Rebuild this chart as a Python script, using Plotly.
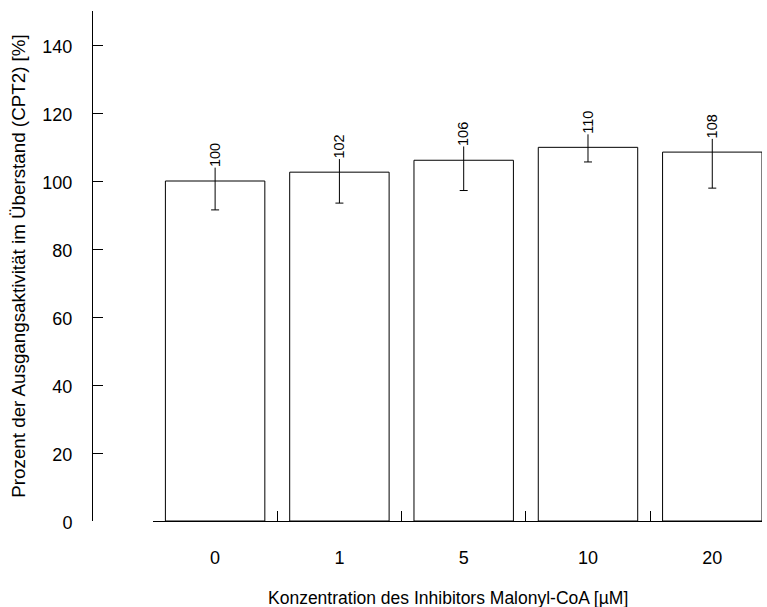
import plotly.graph_objects as go

categories = ["0", "1", "5", "10", "20"]
values = [100.0, 102.6, 106.1, 109.9, 108.5]
errors = [8.5, 9.1, 8.9, 4.3, 10.6]
value_labels = ["100", "102", "106", "110", "108"]
y_ticks = [0, 20, 40, 60, 80, 100, 120, 140]

FONT = "Arial, Liberation Sans, sans-serif"

fig = go.Figure()
fig.add_trace(go.Bar(
    x=categories, y=values, width=0.8,
    marker=dict(color="white", line=dict(color="black", width=1)),
    error_y=dict(type="data", array=errors, symmetric=True,
                 color="black", thickness=1, width=4),
    showlegend=False,
))

for i, (v, t) in enumerate(zip(values, value_labels)):
    fig.add_annotation(x=i, y=v, xref="x", yref="y", text=t, textangle=-90,
                       showarrow=False, xanchor="center", yanchor="bottom",
                       yshift=13, bgcolor="white", borderpad=0,
                       font=dict(family=FONT, size=14.5, color="black"))

fig.add_annotation(x=0.531, y=-0.151, xref="paper", yref="paper",
                   text="Konzentration des Inhibitors Malonyl-CoA [µM]",
                   showarrow=False, xanchor="center", yanchor="middle",
                   font=dict(family=FONT, size=17.5, color="black"))

fig.update_layout(
    width=767, height=607,
    margin=dict(l=92, r=5, t=11, b=86),
    paper_bgcolor="white", plot_bgcolor="white",
    font=dict(family=FONT, color="black"),
    bargap=0.2,
    xaxis=dict(
        type="category", domain=[0.091, 1], range=[-0.5, 4.4],
        showline=True, linecolor="black", linewidth=1,
        ticks="inside", tickson="boundaries", ticklen=10, tickcolor="black", tickwidth=1,
        ticklabelstandoff=20, tickfont=dict(size=18),
        showgrid=False, zeroline=False,
    ),
    yaxis=dict(
        anchor="free", position=0, range=[0, 150],
        tickvals=y_ticks,
        showline=True, linecolor="black", linewidth=1,
        ticks="inside", ticklen=10, tickcolor="black", tickwidth=1,
        ticklabelstandoff=16, ticklabelshift=2, tickfont=dict(size=18),
        showgrid=False, zeroline=False,
        title=dict(text="Prozent der Ausgangsaktivität im Überstand (CPT2) [%]",
                   font=dict(size=18.8), standoff=10),
    ),
)

fig.write_html("out.html")
